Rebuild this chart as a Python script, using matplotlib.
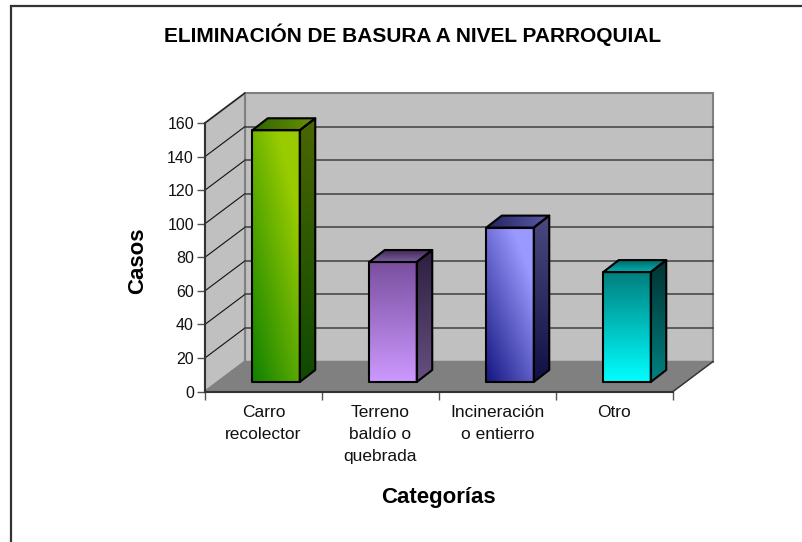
#!/usr/bin/env python3
# -*- coding: utf-8 -*-
import numpy as np
import matplotlib
matplotlib.use('Agg')
import matplotlib.pyplot as plt
from matplotlib.lines import Line2D
from matplotlib.patches import Polygon

plt.rcParams['font.family'] = ['Liberation Sans', 'DejaVu Sans']

categories = ['Carro\nrecolector', 'Terreno\nbaldío o\nquebrada', 'Incineración\no entierro', 'Otro']
casos = [150, 71.5, 92, 65.5]
y_ticks = [0, 20, 40, 60, 80, 100, 120, 140, 160]

# colores de cada barra
front_colors = [('#0f8000', '#99cc00', 'diag'), ('#7a4f9f', '#cc99ff', 'v'),
                ('#151580', '#9999ff', 'diag'), ('#007f7f', '#00ffff', 'v')]
top_colors = [('#2f6600', '#6b9000', 'h'), ('#402a55', '#7a5f9f', 'v'),
              ('#23235f', '#5a5aa8', 'h'), ('#006666', '#00b3b3', 'v')]
side_colors = [('#4a6600', '#0f4a00'), ('#2c1f40', '#66507f'),
               ('#4a4a80', '#101045'), ('#003333', '#008080')]

W, H = 803, 542
fig = plt.figure(figsize=(W / 100, H / 100), dpi=100, facecolor='white')
ax = fig.add_axes([205 / W, 1 - 391.5 / H, 468 / W, 268.5 / H])
ax.set_xlim(0, 4)
ax.set_ylim(0, 160)
ax.set_facecolor('none')

# profundidad 3D en unidades de datos
ppx = 4 / 468
ppy = 160 / 268.5
depth_x = 40 * ppx
depth_y = 30 * ppy


def gradient_poly(pts, c0, c1, mode, z):
    """Rellena un polígono con un degradado lineal"""
    pts = np.array(pts)
    poly = Polygon(pts, closed=True, facecolor='none', edgecolor='none', zorder=z)
    ax.add_patch(poly)
    c0 = np.array(matplotlib.colors.to_rgb(c0))
    c1 = np.array(matplotlib.colors.to_rgb(c1))
    n = 128
    xx, yy = np.meshgrid(np.linspace(0, 1, n), np.linspace(1, 0, n))
    if mode == 'v':
        t = 1 - yy  # c0 arriba, c1 abajo
    elif mode == 'h':
        t = xx
    else:
        t = np.clip(xx * 0.55 + yy * 0.7, 0, 1)
    img = c0 + (c1 - c0) * t[..., None]
    x0, x1, y0, y1 = pts[:, 0].min(), pts[:, 0].max(), pts[:, 1].min(), pts[:, 1].max()
    im = ax.imshow(img, extent=(x0, x1, y0, y1), aspect='auto', zorder=z)
    im.set_clip_path(poly)
    im.set_clip_box(fig.bbox)
    ax.add_patch(Polygon(pts, closed=True, facecolor='none', edgecolor='black',
                         linewidth=1.5, joinstyle='round', zorder=z + 0.1, clip_on=False))


# paredes y piso
wall_edge = '#808080'
ax.add_patch(Polygon([(depth_x, depth_y), (4 + depth_x, depth_y), (4 + depth_x, 160 + depth_y),
                      (depth_x, 160 + depth_y)], facecolor='#c0c0c0', edgecolor=wall_edge,
                     linewidth=1.5, zorder=1, clip_on=False))
ax.add_patch(Polygon([(0, 0), (depth_x, depth_y), (depth_x, 160 + depth_y), (0, 160)],
                     facecolor='#c0c0c0', edgecolor=wall_edge, linewidth=1.5, zorder=1, clip_on=False))
ax.add_patch(Polygon([(0, 0), (4, 0), (4 + depth_x, depth_y), (depth_x, depth_y)],
                     facecolor='#808080', edgecolor='#808080', linewidth=1, zorder=1, clip_on=False))
ax.plot([4, 4 + depth_x], [0, depth_y], color='#333333', linewidth=1, zorder=2, clip_on=False)

# rejilla
for v in y_ticks[1:]:
    ax.plot([0, depth_x], [v, v + depth_y], color='#111111', linewidth=0.8, zorder=2, clip_on=False)
    if v < 160:
        ax.plot([depth_x, 4 + depth_x], [v + depth_y, v + depth_y], color='#404040',
                linewidth=1.1, zorder=2, clip_on=False)

# barras
off_x = 12.5 * ppx
off_y = 9.5 * ppy
bar_w = 47.5 * ppx
bar_dx = 15.5 * ppx
bar_dy = 12 * ppy
for i, v in enumerate(casos):
    x0 = i + 0.5 + off_x - bar_w / 2
    x1 = x0 + bar_w
    y0 = off_y
    y1 = off_y + v
    gradient_poly([(x1, y0), (x1 + bar_dx, y0 + bar_dy), (x1 + bar_dx, y1 + bar_dy), (x1, y1)],
                  side_colors[i][0], side_colors[i][1], 'v', 3 + i)
    gradient_poly([(x0, y1), (x1, y1), (x1 + bar_dx, y1 + bar_dy), (x0 + bar_dx, y1 + bar_dy)],
                  *top_colors[i], 3 + i)
    c0, c1, mode = front_colors[i]
    gradient_poly([(x0, y0), (x1, y0), (x1, y1), (x0, y1)], c0, c1, mode, 3 + i)

# imshow cambia los límites
ax.set_xlim(0, 4)
ax.set_ylim(0, 160)

for s in ['top', 'right']:
    ax.spines[s].set_visible(False)
for s in ['left', 'bottom']:
    ax.spines[s].set_color('#333333')
    ax.spines[s].set_linewidth(1.5)
    ax.spines[s].set_zorder(10)

ax.set_yticks(y_ticks)
ax.set_xticks(range(5))
ax.set_xticklabels([])
ax.set_xticks([0.5, 1.5, 2.5, 3.5], minor=True)
ax.set_xticklabels(categories, minor=True, fontsize=12.5, linespacing=1.6, va='top')
ax.tick_params(axis='x', which='major', length=6, color='#555555', width=1)
ax.tick_params(axis='x', which='minor', length=0, pad=9.5, colors='#111111')
ax.tick_params(axis='y', length=6, color='#555555', width=1, labelsize=11.5, pad=2, labelcolor='#111111')

fig.text(413 / W, 1 - 35 / H, 'ELIMINACIÓN DE BASURA A NIVEL PARROQUIAL', ha='center', va='center',
         fontsize=15, fontweight='bold')
fig.text(138 / W, 1 - 261 / H, 'Casos', ha='center', va='center', rotation=90,
         fontsize=16, fontweight='bold')
fig.text(438 / W, 1 - 497 / H, 'Categorías', ha='center', va='center', fontsize=16, fontweight='bold')

# marco exterior: solo arriba y a la izquierda
fig.add_artist(Line2D([11 / W, 11 / W, 1], [0, 1 - 5.5 / H, 1 - 5.5 / H], transform=fig.transFigure,
                      color='#333333', linewidth=1.6, solid_joinstyle='miter'))

fig.savefig('out.png', dpi=100)
